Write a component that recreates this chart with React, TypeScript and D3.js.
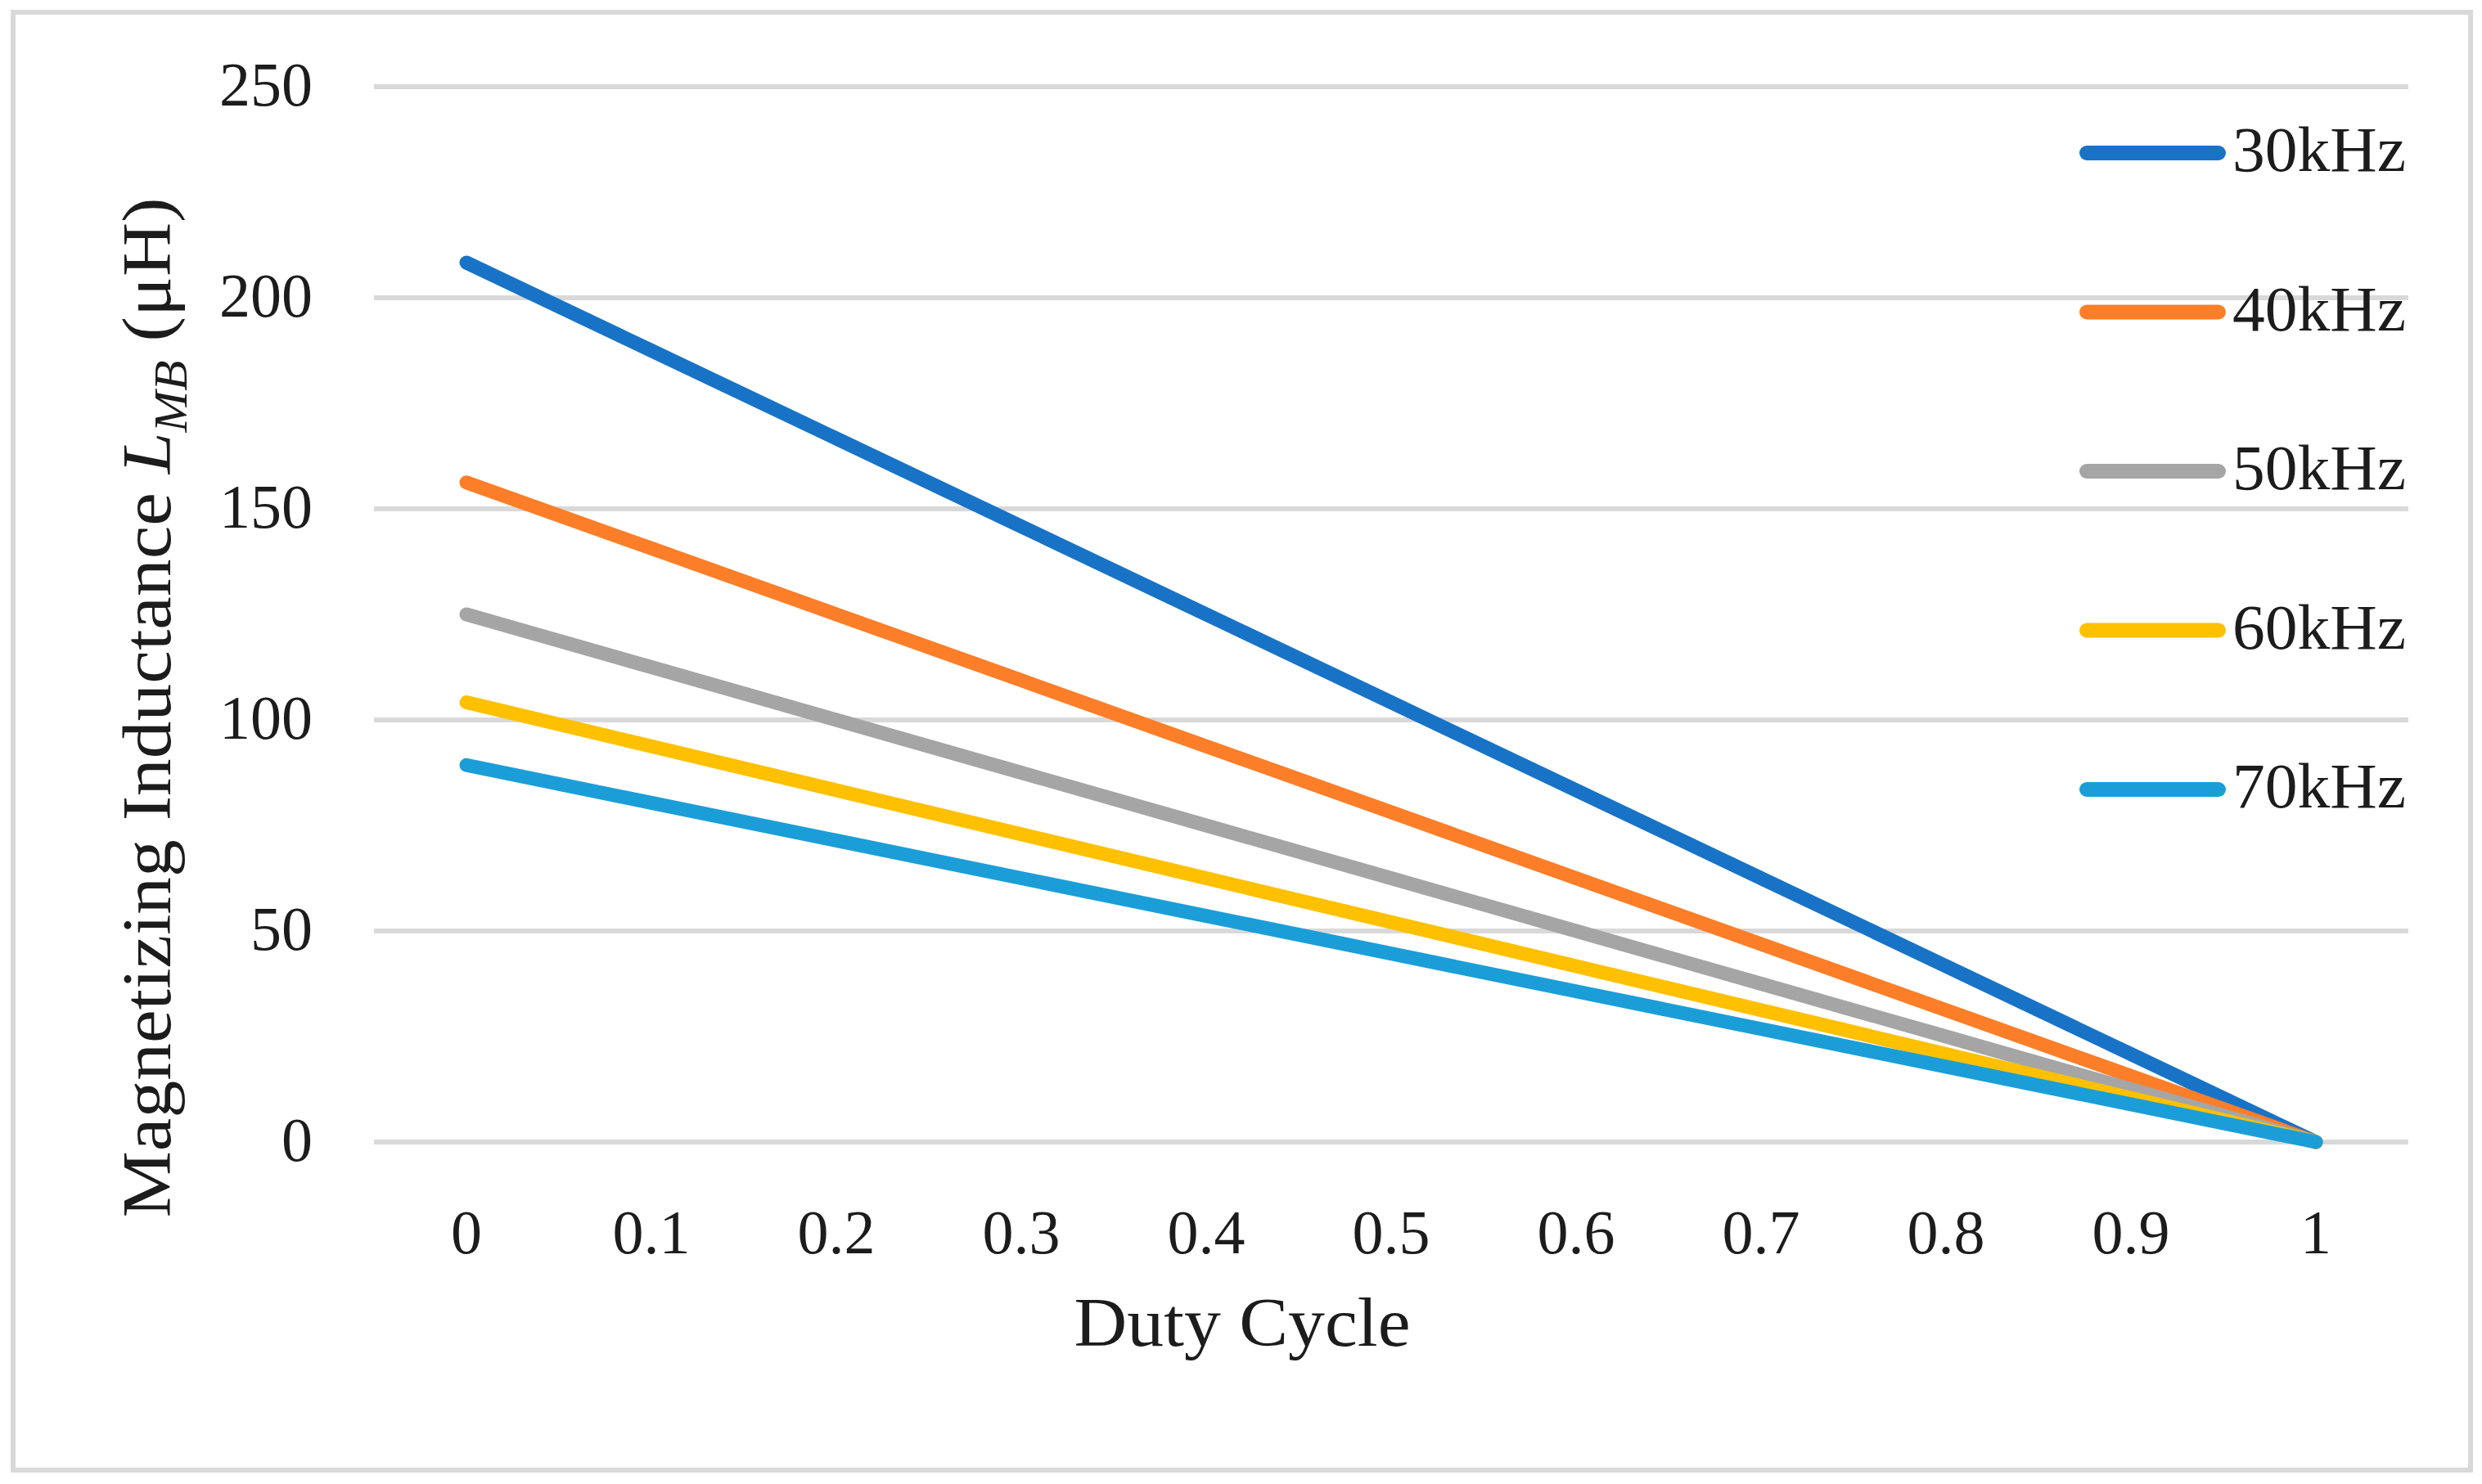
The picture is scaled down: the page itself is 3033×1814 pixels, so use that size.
import React, { useEffect } from "react";
import * as d3 from "d3";

const dutyCycle = ["0", "0.1", "0.2", "0.3", "0.4", "0.5", "0.6", "0.7", "0.8", "0.9", "1"];
const seriesNames = ["30kHz", "40kHz", "50kHz", "60kHz", "70kHz"];
const s30 = [208.33, 187.5, 166.67, 145.83, 125.0, 104.17, 83.33, 62.5, 41.67, 20.83, 0];
const s40 = [156.25, 140.63, 125.0, 109.38, 93.75, 78.13, 62.5, 46.88, 31.25, 15.63, 0];
const s50 = [125.0, 112.5, 100.0, 87.5, 75.0, 62.5, 50.0, 37.5, 25.0, 12.5, 0];
const s60 = [104.17, 93.75, 83.33, 72.92, 62.5, 52.08, 41.67, 31.25, 20.83, 10.42, 0];
const s70 = [89.29, 80.36, 71.43, 62.5, 53.57, 44.64, 35.71, 26.79, 17.86, 8.93, 0];
const yTicks = [0, 50, 100, 150, 200, 250];
const colors = ["#1873c7", "#fd7e28", "#a5a5a5", "#ffc000", "#1b9ed8"];

const W = 3033;
const H = 1814;
const FONT = "'Liberation Serif', 'Times New Roman', serif";
const TEXT = "#1c1c1c";

export default function App() {
  useEffect(() => {
    document.body.style.margin = "0";
  }, []);

  const allSeries = [s30, s40, s50, s60, s70];
  const x = d3.scaleBand<string>().domain(dutyCycle).range([457, 2943]);
  const xc = (c: string) => (x(c) as number) + x.bandwidth() / 2;
  const y = d3.scaleLinear().domain([0, 250]).range([1396, 106]);

  const line = d3
    .line<number>()
    .x((_, i) => xc(dutyCycle[i]))
    .y((d) => y(d));

  const legendY = (i: number) => 187 + i * 194.5;

  return (
    <svg
      width={W}
      height={H}
      viewBox={`0 0 ${W} ${H}`}
      style={{ display: "block", position: "absolute", left: 0, top: 0, background: "#fff" }}
      fontFamily={FONT}
    >
      <rect x={0} y={0} width={W} height={H} fill="#fff" />
      <rect x={16} y={15} width={3003} height={1782} fill="#fff" stroke="#d9d9d9" strokeWidth={6} />

      {yTicks.map((t) => (
        <g key={t}>
          <line x1={457} x2={2943} y1={y(t)} y2={y(t)} stroke="#d9d9d9" strokeWidth={6} />
          <text x={382} y={y(t) + 23} textAnchor="end" fontSize={76} fill={TEXT}>
            {t}
          </text>
        </g>
      ))}

      {dutyCycle.map((c) => (
        <text key={c} x={xc(c)} y={1532} textAnchor="middle" fontSize={76} fill={TEXT}>
          {c}
        </text>
      ))}

      {allSeries.map((s, i) => (
        <path
          key={seriesNames[i]}
          d={line(s) as string}
          fill="none"
          stroke={colors[i]}
          strokeWidth={17}
          strokeLinecap="round"
          strokeLinejoin="round"
        />
      ))}

      {seriesNames.map((n, i) => (
        <g key={n}>
          <line
            x1={2550}
            x2={2711}
            y1={legendY(i)}
            y2={legendY(i)}
            stroke={colors[i]}
            strokeWidth={18}
            strokeLinecap="round"
          />
          <text x={2728} y={legendY(i) + 22} fontSize={78} fill={TEXT} textLength={212} lengthAdjust="spacingAndGlyphs">
            {n}
          </text>
        </g>
      ))}

      <text
        x={1518}
        y={1645}
        textAnchor="middle"
        fontSize={84}
        fill={TEXT}
        textLength={411}
        lengthAdjust="spacingAndGlyphs"
      >
        Duty Cycle
      </text>

      <text
        transform="translate(208, 865) rotate(-90)"
        textAnchor="middle"
        fontSize={84}
        fill={TEXT}
        textLength={1247}
        lengthAdjust="spacingAndGlyphs"
      >
        Magnetizing Inductance <tspan fontStyle="italic">L</tspan>
        <tspan fontStyle="italic" fontSize={56} dy={20}>
          MB
        </tspan>
        <tspan dy={-20}> (μH)</tspan>
      </text>
    </svg>
  );
}
